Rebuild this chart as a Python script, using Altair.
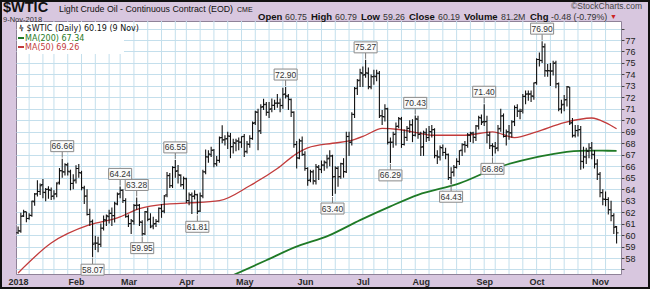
import altair as alt
import pandas as pd

# ---------------- data ----------------
HOLIDAYS = ["2018-01-15", "2018-02-19", "2018-03-30", "2018-05-28", "2018-07-04", "2018-09-03"]

opens = [
    60.20, 60.35, 61.68, 62.04, 61.45, 61.70, 62.90, 63.60, 63.80, 64.40, 63.70, 64.00, 63.90, 63.40, 63.60, 64.60, 65.60, 65.50, 66.10, 65.50, 64.50,
    64.80, 65.80, 65.40, 64.10, 63.40, 61.80, 61.20, 59.30, 59.30, 59.20, 60.60, 61.30, 61.60, 61.90, 61.70, 62.70, 63.60, 63.90, 63.00,
    61.60, 61.00, 61.20, 62.60, 62.60, 61.10, 60.10, 62.00, 61.40, 60.80, 61.00, 61.20, 62.30, 62.10, 63.50, 65.20, 64.30, 65.90, 65.60, 65.20, 64.40,
    64.90, 63.00, 63.50, 63.40, 63.50, 62.10, 63.40, 65.50, 66.80, 67.00, 67.40, 66.20, 66.50, 68.50, 68.30, 68.40, 68.60, 67.70, 68.00, 68.20, 68.10,
    68.60, 67.30, 67.90, 68.40, 69.80, 70.70, 69.10, 71.20, 71.40, 70.70, 71.00, 71.30, 71.50, 71.50, 71.30, 72.30, 72.10, 71.80, 70.70, 67.90, 66.70, 68.20,
    67.00, 65.80, 64.80, 65.50, 64.70, 65.90, 65.70, 66.10, 66.30, 66.70, 66.90, 65.10, 65.80, 65.10, 66.20, 65.50, 68.60, 68.10, 70.50, 72.80, 73.50,
    74.10, 74.00, 74.10, 72.90, 73.80, 73.80, 74.10, 70.40, 70.30, 71.00, 68.10, 68.10, 68.80, 69.50, 70.10, 67.90, 68.50, 69.30, 69.60, 68.70, 70.10,
    68.80, 67.70, 68.90, 68.50, 69.00, 69.20, 66.90, 66.80, 67.60, 67.20, 67.00, 65.00, 65.50, 65.90, 66.40, 67.40, 67.90, 67.80, 68.70, 68.90, 68.50, 69.50, 70.20,
    69.90, 69.90, 68.70, 67.80, 67.70, 67.60, 69.30, 70.40, 68.60, 69.00, 68.90, 69.90, 71.10, 70.80, 70.90, 72.10, 72.30, 72.30, 72.10,
    73.30, 75.30, 75.20, 76.40, 74.30, 74.30, 74.30, 75.00, 73.20, 71.00, 71.40, 71.80, 72.90, 69.80, 68.70, 69.10, 69.20, 66.40, 66.80, 67.30, 67.60, 67.00, 66.20,
    65.30, 63.70, 63.10, 63.10, 62.20, 61.70, 60.75,
]
highs = [
    60.74, 61.95, 62.21, 62.04, 61.89, 63.00, 63.67, 64.77, 64.50, 64.89, 64.10, 64.25, 64.15, 63.90, 64.60, 65.84, 66.66, 66.25, 66.30, 65.70, 65.30,
    66.08, 66.20, 65.60, 64.30, 64.00, 62.30, 61.35, 59.95, 59.85, 61.00, 61.70, 61.80, 62.20, 62.40, 62.90, 63.70, 64.24, 64.00, 63.20,
    61.80, 61.40, 62.70, 63.28, 62.70, 61.30, 62.10, 62.40, 61.90, 61.60, 61.40, 62.40, 62.70, 63.50, 65.50, 65.40, 66.00, 66.55, 66.10, 65.30, 65.10,
    65.00, 63.70, 63.70, 63.90, 63.60, 63.70, 65.70, 67.45, 67.40, 67.70, 67.50, 66.90, 68.60, 69.56, 68.70, 69.00, 68.90, 68.40, 68.40, 68.50, 68.60,
    68.80, 68.20, 68.70, 69.90, 70.84, 71.00, 71.40, 71.89, 71.60, 71.60, 71.90, 71.80, 72.30, 71.90, 72.83, 72.90, 72.30, 71.90, 70.80, 68.20, 68.40, 68.60,
    67.30, 65.90, 65.70, 65.70, 66.20, 66.10, 66.50, 66.50, 67.00, 67.40, 67.00, 66.00, 66.00, 66.30, 66.70, 69.00, 69.00, 70.70, 72.90, 73.60, 74.50,
    74.70, 75.27, 74.60, 74.00, 74.40, 74.40, 74.30, 70.90, 71.40, 71.10, 68.50, 69.00, 69.80, 70.30, 70.30, 69.20, 69.50, 70.00, 70.10, 70.43, 70.40,
    69.00, 69.10, 69.30, 69.50, 69.60, 69.30, 67.40, 67.80, 67.90, 67.60, 67.10, 65.90, 66.10, 66.70, 67.40, 68.00, 68.20, 68.90, 69.00, 69.00, 69.60, 70.40, 70.50,
    71.40, 70.40, 69.00, 68.00, 68.10, 69.60, 71.00, 70.60, 69.20, 69.60, 70.00, 71.30, 71.40, 71.00, 72.30, 72.60, 72.60, 72.60, 73.30,
    75.40, 75.90, 76.90, 76.70, 74.90, 75.00, 75.20, 75.20, 73.30, 71.80, 72.20, 73.00, 72.90, 70.20, 69.60, 69.60, 69.50, 67.70, 67.60, 68.00, 68.10, 67.40, 66.60,
    65.50, 64.00, 63.80, 63.30, 63.00, 61.90, 60.79,
]
lows = [
    60.10, 60.20, 61.58, 61.12, 61.33, 61.60, 62.56, 63.35, 63.50, 63.20, 62.95, 63.17, 63.05, 63.10, 63.30, 64.40, 65.00, 65.20, 65.20, 63.90, 64.00,
    64.50, 65.00, 63.90, 62.70, 61.70, 60.80, 58.07, 58.70, 58.50, 58.95, 60.40, 60.80, 61.00, 60.80, 61.10, 62.60, 63.20, 62.80, 61.50,
    60.70, 60.10, 60.90, 62.20, 60.80, 59.95, 60.00, 61.20, 60.60, 60.50, 60.70, 61.10, 61.50, 61.90, 63.30, 64.10, 64.10, 65.00, 64.50, 64.20, 64.00,
    62.80, 62.60, 61.84, 63.10, 61.81, 62.00, 63.20, 65.30, 66.30, 66.80, 65.90, 66.00, 66.30, 68.00, 67.80, 67.50, 66.70, 67.10, 67.30, 67.40, 67.60,
    66.80, 67.10, 67.60, 68.30, 69.60, 67.40, 68.80, 70.90, 70.40, 70.20, 70.70, 70.90, 71.10, 70.70, 71.00, 71.90, 70.90, 70.30, 67.60, 65.80, 66.60, 66.90,
    65.60, 64.30, 64.60, 64.40, 64.40, 64.80, 65.40, 65.60, 65.80, 66.00, 63.40, 63.60, 64.20, 64.90, 65.00, 65.40, 66.90, 67.80, 70.20, 72.20, 72.90,
    72.90, 73.70, 72.70, 72.70, 73.10, 73.40, 70.20, 69.60, 69.90, 67.90, 66.29, 67.60, 67.80, 69.30, 67.60, 67.80, 68.20, 68.90, 68.10, 68.60, 68.40,
    66.90, 66.90, 68.10, 68.20, 68.50, 66.70, 66.20, 66.50, 66.90, 66.60, 64.80, 64.43, 65.10, 65.80, 66.10, 66.90, 67.20, 67.60, 68.10, 68.00, 68.20, 69.20, 69.60,
    69.50, 68.00, 67.50, 66.86, 67.10, 67.30, 69.00, 68.50, 67.80, 68.30, 68.50, 69.50, 70.30, 70.10, 70.60, 71.40, 71.70, 71.60, 71.80,
    73.10, 74.70, 75.00, 73.80, 73.80, 73.00, 73.90, 72.80, 70.80, 70.60, 70.80, 71.20, 69.60, 68.50, 68.50, 68.60, 65.70, 65.80, 66.20, 66.70, 66.60, 65.80, 64.80,
    63.30, 62.60, 62.50, 61.80, 61.20, 60.10, 59.26,
]
closes = [
    60.37, 61.63, 62.01, 61.44, 61.73, 62.96, 63.57, 63.80, 64.30, 63.73, 63.97, 63.95, 63.37, 63.57, 64.47, 65.61, 65.51, 66.14, 65.56, 64.50, 64.73,
    65.80, 65.45, 64.15, 63.39, 61.79, 61.15, 59.20, 59.29, 59.19, 60.60, 61.34, 61.68, 61.90, 61.68, 62.77, 63.55, 63.91, 63.01, 61.64,
    60.99, 61.25, 62.57, 62.60, 61.15, 60.12, 62.04, 61.36, 60.71, 60.96, 61.19, 62.34, 62.06, 63.40, 65.17, 64.30, 65.88, 65.55, 65.25, 64.38, 64.94,
    63.01, 63.51, 63.37, 63.54, 62.06, 63.42, 65.51, 66.82, 67.07, 67.39, 66.22, 66.52, 68.47, 68.29, 68.38, 68.64, 67.70, 68.05, 68.19, 68.10, 68.57,
    67.25, 67.93, 68.43, 69.72, 70.73, 69.06, 71.14, 71.36, 70.70, 70.96, 71.31, 71.49, 71.49, 71.28, 72.24, 72.13, 71.84, 70.71, 67.88, 66.73, 68.21, 67.04,
    65.81, 64.75, 65.52, 64.73, 65.95, 65.74, 66.10, 66.36, 66.64, 66.89, 65.06, 65.85, 65.07, 66.22, 65.54, 68.58, 68.08, 70.53, 72.76, 73.45, 74.15,
    73.94, 74.14, 72.94, 73.80, 73.85, 74.11, 70.38, 70.33, 71.01, 68.06, 68.08, 68.76, 69.46, 70.16, 67.89, 68.52, 69.30, 69.61, 68.69, 70.13, 68.76,
    67.66, 68.96, 68.49, 69.01, 69.17, 66.94, 66.81, 67.63, 67.20, 67.04, 65.01, 65.46, 65.91, 66.43, 67.35, 67.86, 67.83, 68.72, 68.87, 68.53, 69.51, 70.25, 69.80,
    69.87, 68.72, 67.77, 67.75, 67.54, 69.25, 70.37, 68.59, 68.99, 68.91, 69.85, 71.12, 70.80, 70.78, 72.08, 72.28, 72.28, 72.12, 73.25,
    75.30, 75.23, 76.41, 74.33, 74.34, 74.29, 74.96, 73.17, 70.97, 71.34, 71.78, 72.92, 69.75, 68.65, 69.12, 69.17, 66.43, 66.82, 67.33, 67.59, 67.04, 66.18, 65.31,
    63.69, 63.14, 63.10, 62.21, 61.67, 60.67, 60.19,
]

ma50_i = [0, 12, 26, 36, 44, 54, 62, 73, 84, 94, 101, 105, 114, 120, 126, 132, 138, 145, 150, 162, 172, 180, 188, 198, 208, 213, 217]
ma50_v = [56.7, 59.3, 60.9, 61.5, 62.3, 62.7, 62.8, 63.0, 64.3, 65.8, 67.1, 67.6, 68.0, 68.2, 68.7, 69.3, 69.2, 68.9, 68.7, 68.7, 69.0, 68.5, 69.0, 69.8, 70.2, 69.8, 69.26]
ma200_i = [77, 90, 100, 113, 124, 135, 145, 160, 174, 188, 196, 206, 212, 217]
ma200_v = [56.4, 57.8, 58.9, 60.0, 61.3, 62.5, 63.5, 64.5, 65.9, 66.8, 67.15, 67.35, 67.35, 67.34]

ann_i = [16, 27, 37, 43, 45, 57, 65, 97, 114, 126, 135, 144, 157, 169, 172, 190]
ann_v = [66.66, 58.07, 64.24, 63.28, 59.95, 66.55, 61.81, 72.90, 63.40, 75.27, 66.29, 70.43, 64.43, 71.40, 66.86, 76.90]
ann_k = ["H", "L", "H", "H", "L", "H", "L", "H", "L", "H", "L", "H", "L", "H", "L", "H"]

header_labels = ["Open", "High", "Low", "Close", "Volume", "Chg"]
header_values = ["60.75", "60.79", "59.26", "60.19", "81.2M", "-0.48 (-0.79%)"]

# ---------------- frames ----------------
dates = [d for d in pd.bdate_range("2018-01-02", "2018-11-09") if d.strftime("%Y-%m-%d") not in HOLIDAYS]
n = len(dates)
df = pd.DataFrame({"i": list(range(n)), "open": opens, "high": highs, "low": lows, "close": closes})
month_starts = [i for i in range(n) if i == 0 or dates[i].month != dates[i - 1].month]
month_names = ["2018" if i == 0 else dates[i].strftime("%b") for i in month_starts]
week_starts = [i for i in range(1, n) if dates[i].isocalendar()[1] != dates[i - 1].isocalendar()[1]]

ma50 = pd.DataFrame({"i": ma50_i, "v": ma50_v})
ma200 = pd.DataFrame({"i": ma200_i, "v": ma200_v})
ann = pd.DataFrame({"i": ann_i, "v": ann_v, "k": ann_k, "t": [f"{v:.2f}" for v in ann_v]})

label_expr = ""
for i, nm in zip(month_starts, month_names):
    label_expr += f"datum.value == {i} ? '{nm}' : "
label_expr += "''"

GRID = "#c4dfec"
BAR = "#111111"
RED = "#c23b3b"
GREEN = "#1f7a26"
xscale = alt.Scale(domain=[-0.76, 218.6], nice=False, zero=False)
yscale = alt.Scale(domain=[56.606, 78.656], nice=False, zero=False)
xaxis = alt.Axis(values=month_starts, labelExpr=label_expr, title=None, grid=False, ticks=False,
                 domain=False, labelFont="Liberation Sans", labelFontSize=9, labelFontWeight="bold",
                 labelColor="#2a2a2a", labelPadding=3, labelOverlap=False, labelFlush=False)
yaxis = alt.Axis(orient="right", values=list(range(57, 79)),
                 labelExpr="datum.value >= 58 && datum.value <= 77 ? datum.label : ''",
                 title=None, grid=True, gridColor=GRID, gridWidth=1, tickColor="#444", tickSize=3,
                 domain=False, labelFont="Liberation Sans", labelFontSize=9, labelColor="#222",
                 labelPadding=1, labelBaseline="middle")


def X(f="i"):
    return alt.X(f"{f}:Q", scale=xscale, axis=xaxis)


def Y(f):
    return alt.Y(f"{f}:Q", scale=yscale, axis=yaxis)


vgrid = alt.Chart(pd.DataFrame({"i": week_starts})).mark_rule(color=GRID, strokeWidth=1).encode(x=X())

bars = alt.Chart(df).mark_rule(color=BAR, strokeWidth=1.1, clip=True).encode(x=X(), y=Y("low"), y2="high:Q")
opent = alt.Chart(df).mark_rule(color=BAR, strokeWidth=1, xOffset=-2, x2Offset=0, clip=True).encode(
    x=X(), x2="i:Q", y=Y("open"))
closet = alt.Chart(df).mark_rule(color=BAR, strokeWidth=1, xOffset=0, x2Offset=2, clip=True).encode(
    x=X(), x2="i:Q", y=Y("close"))

l50 = alt.Chart(ma50).mark_line(color=RED, strokeWidth=1.3, clip=True, interpolate="monotone").encode(x=X(), y=Y("v"))
l200 = alt.Chart(ma200).mark_line(color=GREEN, strokeWidth=1.8, clip=True, interpolate="monotone").encode(x=X(), y=Y("v"))

hi = alt.Chart(ann).transform_filter("datum.k == 'H'")
lo = alt.Chart(ann).transform_filter("datum.k == 'L'")
BOXW = 11.5
ann_layers = [
    hi.mark_rule(color="#777", strokeWidth=1, yOffset=-1, y2Offset=-7).encode(x=X(), y=Y("v"), y2="v:Q"),
    lo.mark_rule(color="#777", strokeWidth=1, yOffset=1, y2Offset=7).encode(x=X(), y=Y("v"), y2="v:Q"),
    hi.mark_rect(fill="#fbfbfb", stroke="#8a8a8a", strokeWidth=1, xOffset=-BOXW, x2Offset=BOXW, yOffset=-18, y2Offset=-7).encode(
        x=X(), x2="i:Q", y=Y("v"), y2="v:Q"),
    lo.mark_rect(fill="#fbfbfb", stroke="#8a8a8a", strokeWidth=1, xOffset=-BOXW, x2Offset=BOXW, yOffset=7, y2Offset=18).encode(
        x=X(), x2="i:Q", y=Y("v"), y2="v:Q"),
    hi.mark_text(font="Liberation Sans", fontSize=8.5, color="#333", baseline="middle", dy=-12.5).encode(x=X(), y=Y("v"), text="t:N"),
    lo.mark_text(font="Liberation Sans", fontSize=8.5, color="#333", baseline="middle", dy=12.5).encode(x=X(), y=Y("v"), text="t:N"),
]


def txt(s, x, y, size=9, weight="normal", color="#111", align="left", font="Liberation Sans"):
    return alt.Chart(pd.DataFrame({"t": [s]})).mark_text(
        align=align, baseline="alphabetic", fontSize=size, fontWeight=weight, color=color, font=font
    ).encode(x=alt.value(x), y=alt.value(y), text="t:N")


def box(x1, x2, y1, y2, **kw):
    return alt.Chart(pd.DataFrame({"a": [0]})).mark_rect(**kw).encode(
        x=alt.value(x1), x2=alt.value(x2), y=alt.value(y1), y2=alt.value(y2))


def seg(x1, x2, y, color, w=2):
    return alt.Chart(pd.DataFrame({"a": [0]})).mark_rule(color=color, strokeWidth=w).encode(
        x=alt.value(x1), x2=alt.value(x2), y=alt.value(y))


deco = [
    box(1, 108, 1, 33, fill="white"),
    txt("\u2AE9 $WTIC (Daily) 60.19 (9 Nov)", 3, 10, size=8, font="DejaVu Sans", color="#111"),
    seg(2, 8, 17, GREEN),
    txt("MA(200) 67.34", 9, 20, size=8, font="DejaVu Sans", color=GREEN),
    seg(2, 8, 26, RED),
    txt("MA(50) 69.26", 9, 29, size=8, font="DejaVu Sans", color=RED),
    txt("$WTIC", -13, -9, size=14.5, weight="bold"),
    txt("Light Crude Oil - Continuous Contract (EOD)", 43, -9, size=8.8),
    txt("CME", 221, -9, size=7),
    txt("9-Nov-2018", -13, 0.5, size=7.5, color="#333"),
    txt("\u00A9StockCharts.com", 626, -12, size=8.5, color="#444", align="right"),
]
label_x = [242, 295, 345, 393, 448, 514]
value_x = [269, 319, 367, 422, 485, 535]
for s, x in zip(header_labels, label_x):
    deco.append(txt(s, x, -1, size=9.5, weight="bold", color="#111"))
for s, x in zip(header_values, value_x):
    deco.append(txt(s, x, -1, size=8.8, color="#333"))
deco.append(txt("\u25BC", 594, -2, size=7, color="#cc2222"))
deco.append(box(-15, 633, -20, 267, fillOpacity=0, stroke="#111", strokeWidth=2))

chart = alt.layer(vgrid, l50, l200, bars, opent, closet, *ann_layers, *deco).properties(
    width=605, height=253,
    padding={"left": 16, "top": 21, "right": 29, "bottom": 15},
    autosize=alt.AutoSizeParams(type="none"),
    background="#d8c7df",
).configure_view(fill="white", stroke="#8f8298", strokeWidth=1)

chart.save("out.html", embed_options={"renderer": "svg", "actions": False})
